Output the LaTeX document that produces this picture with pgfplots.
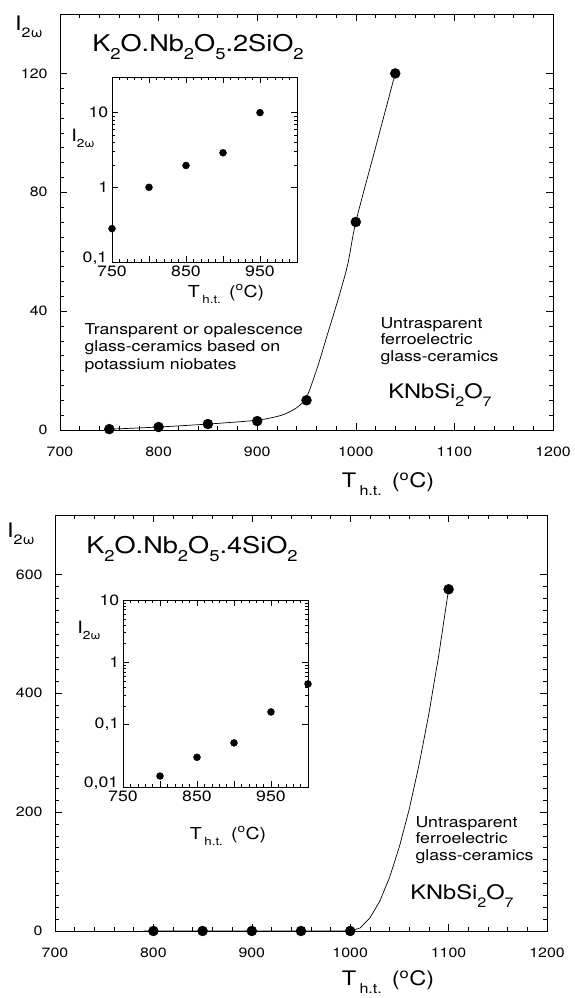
\documentclass[border=0pt]{standalone}
\usepackage{pgfplots}
\pgfplotsset{compat=1.18}
\usepackage{fontspec}
\setmainfont{TeX Gyre Heros}[FakeStretch=1.18]
\usepackage{graphicx}
\newcommand{\sub}[1]{\raisebox{-0.36em}{\scalebox{0.68}{#1}}}
\newcommand{\Iw}{I\sub{2ω}}
\newcommand{\Tht}{T\,\sub{h.t.}\ \,(\textsuperscript{o}C)}
\pgfplotsset{
  mainax/.style={
    scale only axis, anchor=south west,
    xmin=700, xmax=1200, xtick={700,800,...,1200},
    minor x tick num=4,
    tick align=inside,
    major tick length=7pt, minor tick length=4pt,
    tick style={black, line width=0.6pt},
    axis line style={line width=0.8pt},
    /pgf/number format/assume math mode=true,
    /pgf/number format/1000 sep={},
    tick label style={font=\fontsize{13.5}{16}\selectfont},
    xticklabel style={yshift=-13pt},
    yticklabel style={xshift=-9pt},
  },
  inax/.style={
    scale only axis, anchor=south west,
    width=185pt,
    xmin=750, xmax=1000, xtick={750,800,...,1000},
    xticklabels={750,,850,,950,},
    minor x tick num=4,
    tick align=inside,
    major tick length=6pt, minor tick length=3pt,
    tick style={black, line width=0.5pt},
    axis line style={line width=0.7pt},
    axis background/.style={fill=white},
    /pgf/number format/assume math mode=true,
    tick label style={font=\fontsize{15}{17}\selectfont},
    xticklabel style={yshift=-3pt, inner sep=1pt},
    yticklabel style={xshift=-2pt, inner sep=1.5pt},
    extra y tick style={yticklabel style={yshift=4pt, xshift=-1pt}, tick style={black, line width=0.5pt}},
  },
}
\begin{document}
\begin{tikzpicture}
\path (0pt,0pt) rectangle (574pt,998pt);
% ---------------- top panel ----------------
\begin{axis}[mainax, at={(60pt,568pt)}, width=493pt, height=416pt,
  ymin=0, ymax=140, ytick={0,40,80,120}, minor y tick num=7]
\addplot[black, line width=0.7pt, smooth, tension=0.45] coordinates {
 (752,0.3) (800,1.0) (850,2.0) (900,3.3) (925,5) (940,7.5) (950,11)
 (961,21) (972,33) (983,45) (992,56) (1000,70) (1020,95) (1040,120)};
\addplot[only marks, mark=*, mark size=5pt, black] coordinates {
 (750,0.3) (800,1) (850,2) (900,3) (950,10) (1000,70) (1040,120)};
\end{axis}
\begin{axis}[inax, ymode=log, at={(112pt,736pt)}, height=185pt,
  ymin=0.1, ymax=30, ytick={1,10}, yticklabels={1,10},
  extra y ticks={0.1}, extra y tick labels={0{,}1}]
\addplot[only marks, mark=*, mark size=3.5pt, black] coordinates {
 (750,0.28) (800,1.0) (850,1.96) (900,2.9) (950,10)};
\end{axis}
\node[font=\fontsize{20}{22}\selectfont] at (29pt,971pt) {\Iw};
\node[font=\fontsize{23}{25}\selectfont] at (198pt,951pt) {K\sub{2}O.Nb\sub{2}O\sub{5}.2SiO\sub{2}};
\node[font=\fontsize{17}{19}\selectfont] at (83pt,860pt) {\Iw};
\node[font=\fontsize{16.5}{18}\selectfont, inner sep=1pt] at (226pt,704pt) {\Tht};
\node[anchor=west, align=left, font=\fontsize{15}{17.5}\selectfont] at (81pt,650pt) {Transparent or opalescence\\ glass-ceramics based on\\ potassium niobates};
\node[anchor=west, align=left, font=\fontsize{15}{16.8}\selectfont] at (377pt,657pt) {Untrasparent\\ ferroelectric\\ glass-ceramics};
\node[font=\fontsize{20}{22}\selectfont] at (440pt,603pt) {KNbSi\sub{2}O\sub{7}};
\node[font=\fontsize{20}{22}\selectfont] at (388pt,514pt) {\Tht};
% ---------------- bottom panel ----------------
\begin{axis}[mainax, at={(55pt,67pt)}, width=492pt, height=416pt,
  ymin=0, ymax=700, ytick={0,200,400,600}, minor y tick num=9]
\addplot[black, line width=0.7pt] coordinates {
 (790,0) (1000,0) (1010,5) (1020,22) (1030,50) (1040,90) (1050,142)
 (1060,205) (1070,280) (1080,366) (1090,464) (1100,575)};
\addplot[only marks, mark=*, mark size=5pt, black] coordinates {
 (800,0) (850,0) (900,0) (950,0) (1000,0) (1100,575)};
\end{axis}
\begin{axis}[inax, ymode=log, at={(123pt,211pt)}, height=187pt,
  ymin=0.01, ymax=10, ytick={0.1,1,10}, yticklabels={0{,}1,1,10},
  extra y ticks={0.01}, extra y tick labels={0{,}01}]
\addplot[only marks, mark=*, mark size=3.5pt, black] coordinates {
 (800,0.015) (850,0.030) (900,0.051) (950,0.16) (1000,0.45)};
\end{axis}
\node[font=\fontsize{20}{22}\selectfont] at (21pt,464pt) {\Iw};
\node[font=\fontsize{23}{25}\selectfont] at (192pt,449pt) {K\sub{2}O.Nb\sub{2}O\sub{5}.4SiO\sub{2}};
\node[font=\fontsize{17}{19}\selectfont] at (89pt,368pt) {\Iw};
\node[font=\fontsize{16.5}{18}\selectfont, inner sep=1pt] at (228pt,162pt) {\Tht};
\node[anchor=west, align=left, font=\fontsize{15}{16.8}\selectfont] at (412pt,158pt) {Untrasparent\\ ferroelectric\\ glass-ceramics};
\node[font=\fontsize{20}{22}\selectfont] at (462pt,102pt) {KNbSi\sub{2}O\sub{7}};
\node[font=\fontsize{20}{22}\selectfont] at (388pt,16pt) {\Tht};
\end{tikzpicture}
\end{document}
